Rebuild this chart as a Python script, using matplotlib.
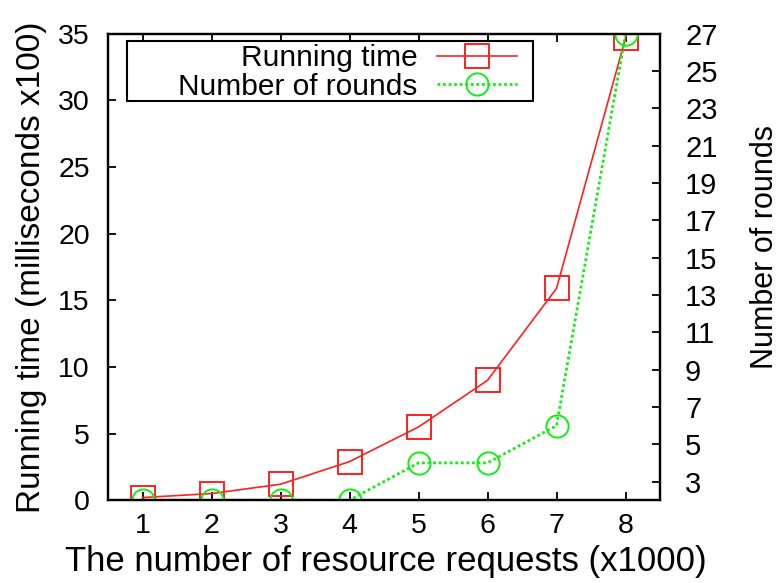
import matplotlib
matplotlib.use("Agg")
import matplotlib.pyplot as plt
from matplotlib.patches import Rectangle

plt.rcParams['font.family'] = ['Liberation Sans', 'DejaVu Sans']

# Measurements per workload size
requests = [1, 2, 3, 4, 5, 6, 7, 8]                    # x1000 resource requests
running_time = [0.2, 0.5, 1.2, 2.9, 5.5, 9.0, 15.9, 34.7]  # milliseconds x100
rounds = [2, 2, 2, 2, 4, 4, 6, 27]

x_ticks = [1, 2, 3, 4, 5, 6, 7, 8]
left_ticks = [0, 5, 10, 15, 20, 25, 30, 35]
right_ticks = [3, 5, 7, 9, 11, 13, 15, 17, 19, 21, 23, 25, 27]

fig = plt.figure(figsize=(7.83, 5.83), dpi=100)
ax = fig.add_subplot(111)
fig.subplots_adjust(left=0.138, right=0.843, top=0.942, bottom=0.142)
ax2 = ax.twinx()

red = '#ff2020'
green = '#11ee11'

l1, = ax.plot(requests, running_time, color=red, lw=1.2, marker='s',
              markersize=17, markerfacecolor='none', markeredgecolor=red,
              markeredgewidth=1.4, label='Running time')
l2, = ax2.plot(requests, rounds, color=green, lw=2.0, ls=(0, (1, 1)),
               marker='o', markersize=16, markerfacecolor='none',
               markeredgecolor=green, markeredgewidth=1.4,
               label='Number of rounds')

ax.set_xlim(0.5, 8.5)
ax.set_ylim(0, 35)
ax2.set_ylim(2, 27)
ax.set_xticks(x_ticks)
ax.set_yticks(left_ticks)
ax2.set_yticks(right_ticks)

for a in (ax, ax2):
    for s in a.spines.values():
        s.set_linewidth(1.6)
        s.set_color('black')

ax.tick_params(axis='x', direction='in', top=True, length=6, width=1.3,
               labelsize=20.5, pad=9)
ax.tick_params(axis='y', direction='in', right=False, length=6, width=1.3,
               labelsize=20.5, pad=13)
ax2.tick_params(axis='y', direction='in', length=6, width=1.3,
                labelsize=21, pad=18)

ax.set_xlabel('The number of resource requests (x1000)', fontsize=25)
ax.set_ylabel('Running time (milliseconds x100)', fontsize=24)
ax2.set_ylabel('Number of rounds', fontsize=22)
ax.xaxis.set_label_coords(0.504, -0.095)
ax.yaxis.set_label_coords(-0.11, 0.5)
ax2.yaxis.set_label_coords(1.163, 0.543)

# legend box is wider than its contents, so draw the frame separately
ax2.add_patch(Rectangle((0.0344, 0.856), 0.7356, 0.129, transform=ax2.transAxes,
                        facecolor='white', edgecolor='black', lw=1.5,
                        zorder=4, clip_on=False))
leg = ax2.legend(handles=[l1, l2], loc='upper right',
                 bbox_to_anchor=(0.747, 0.984), borderaxespad=0,
                 markerfirst=False, numpoints=1, fontsize=21.5,
                 handlelength=2.7, handletextpad=0.65, labelspacing=0.02,
                 borderpad=0.1, frameon=False)
leg.set_zorder(5)

fig.savefig('out.png', dpi=100)
